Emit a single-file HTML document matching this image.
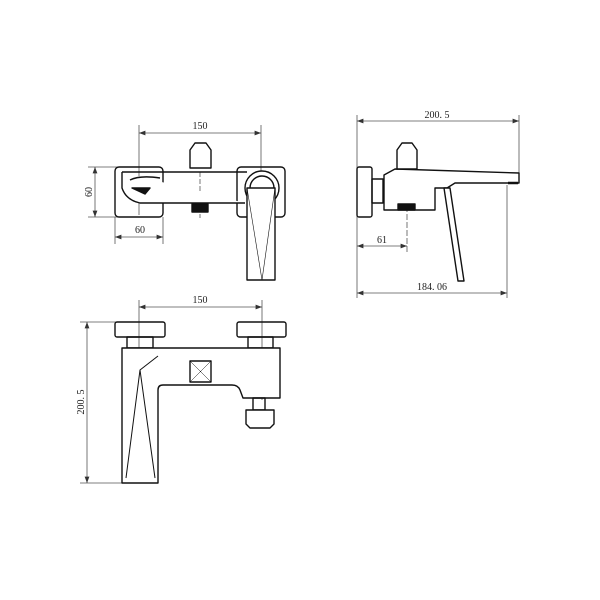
<!DOCTYPE html>
<html><head><style>html,body{margin:0;padding:0;background:#fff}svg{display:block}</style></head><body>
<svg width="600" height="600" viewBox="0 0 600 600" xmlns="http://www.w3.org/2000/svg" font-family="Liberation Serif, serif" font-size="10" fill="none">
<defs>
<marker id="a" markerWidth="8" markerHeight="6" refX="8" refY="3" orient="auto-start-reverse"><path d="M0,0 L8,3 L0,6" fill="#333" stroke="none"/></marker>
</defs>
<g stroke="#555" stroke-width="0.8">
<!-- TOP VIEW dims -->
<line x1="139" y1="125" x2="139" y2="215"/><line x1="261" y1="125" x2="261" y2="250"/>
<line x1="139" y1="133" x2="261" y2="133" marker-start="url(#a)" marker-end="url(#a)"/>
<line x1="88" y1="167" x2="118" y2="167"/><line x1="88" y1="217" x2="118" y2="217"/>
<line x1="95" y1="167" x2="95" y2="217" marker-start="url(#a)" marker-end="url(#a)"/>
<line x1="115" y1="217" x2="115" y2="244"/><line x1="163" y1="217" x2="163" y2="244"/>
<line x1="115" y1="237" x2="163" y2="237" marker-start="url(#a)" marker-end="url(#a)"/>
<line x1="200" y1="172" x2="200" y2="218" stroke-dasharray="5,2"/>
<!-- SIDE VIEW dims -->
<line x1="357" y1="115" x2="357" y2="298"/><line x1="519" y1="115" x2="519" y2="175"/>
<line x1="357" y1="121" x2="519" y2="121" marker-start="url(#a)" marker-end="url(#a)"/>
<line x1="407" y1="150" x2="407" y2="252" stroke-dasharray="6,2"/>
<line x1="357" y1="246" x2="407" y2="246" marker-start="url(#a)" marker-end="url(#a)"/>
<line x1="507" y1="185" x2="507" y2="298"/>
<line x1="357" y1="293" x2="507" y2="293" marker-start="url(#a)" marker-end="url(#a)"/>
<!-- FRONT VIEW dims -->
<line x1="139" y1="300" x2="139" y2="350"/><line x1="262" y1="300" x2="262" y2="400"/>
<line x1="139" y1="307" x2="262" y2="307" marker-start="url(#a)" marker-end="url(#a)"/>
<line x1="80" y1="322" x2="118" y2="322"/><line x1="80" y1="483" x2="125" y2="483"/>
<line x1="87" y1="322" x2="87" y2="483" marker-start="url(#a)" marker-end="url(#a)"/>
</g>
<g fill="#222" stroke="none">
<text x="200" y="129" text-anchor="middle">150</text>
<text x="140" y="233" text-anchor="middle">60</text>
<text transform="translate(92,192) rotate(-90)" text-anchor="middle">60</text>
<text x="437" y="118" text-anchor="middle">200. 5</text>
<text x="382" y="243" text-anchor="middle">61</text>
<text x="432" y="290" text-anchor="middle">184. 06</text>
<text x="200" y="303" text-anchor="middle">150</text>
<text transform="translate(84,402) rotate(-90)" text-anchor="middle">200. 5</text>
</g>
<g stroke="#111" stroke-width="1.4" stroke-linejoin="round">
<!-- TOP VIEW -->
<rect x="115" y="167" width="48" height="50" rx="4"/>
<rect x="237" y="167" width="48" height="50" rx="4"/>
<path d="M122,172 H247 M122,172 V188 Q126,200 140,203 H245" fill="#fff"/>
<path d="M190,168 V150 L195,143 H206 L211,150 V168 Z" fill="#fff"/>
<rect x="192" y="204" width="16" height="8" fill="#111"/>
<circle cx="262" cy="188" r="17" fill="#fff"/>
<circle cx="262" cy="188" r="12"/>
<rect x="247" y="188" width="28" height="92" fill="#fff"/>
<path d="M247,188 L262,280 L275,188" stroke-width="0.6"/>
<path d="M130,180 Q140,175 160,178" />
<path d="M132,188 H150 L145,194 Z" fill="#111"/>
<!-- SIDE VIEW -->
<rect x="357" y="167" width="15" height="50" rx="2"/>
<rect x="372" y="179" width="11" height="24"/>
<path d="M384,210 V175 L395,169 L519,173 V183 H455 L447,188 H435 V210 Z" fill="#fff"/>
<path d="M397,169 V150 L402,143 H412 L417,150 V169 Z" fill="#fff"/>
<rect x="398" y="204" width="17" height="6" fill="#111"/>
<path d="M444,188 L458,281 L464,281 L450,188 Z" fill="#fff"/>
<path d="M508,183 H518" stroke-width="2.5"/>
<!-- FRONT VIEW -->
<rect x="115" y="322" width="50" height="15" rx="2"/>
<rect x="237" y="322" width="49" height="15" rx="2"/>
<rect x="127" y="337" width="26" height="11"/>
<rect x="248" y="337" width="25" height="11"/>
<path d="M122,348 H280 V398 H243 L240,390 Q238,385 232,385 H163 Q158,385 158,390 V483 H122 Z" fill="#fff"/>
<path d="M158,356 L140,370 L126,478 M140,370 L155,478" stroke-width="1"/>
<rect x="190" y="361" width="21" height="21"/>
<path d="M190,361 L211,382 M211,361 L190,382" stroke-width="0.5"/>
<rect x="253" y="398" width="12" height="12"/>
<path d="M246,410 H274 V424 L270,428 H250 L246,424 Z" fill="#fff"/>
</g>
</svg>
</body></html>
